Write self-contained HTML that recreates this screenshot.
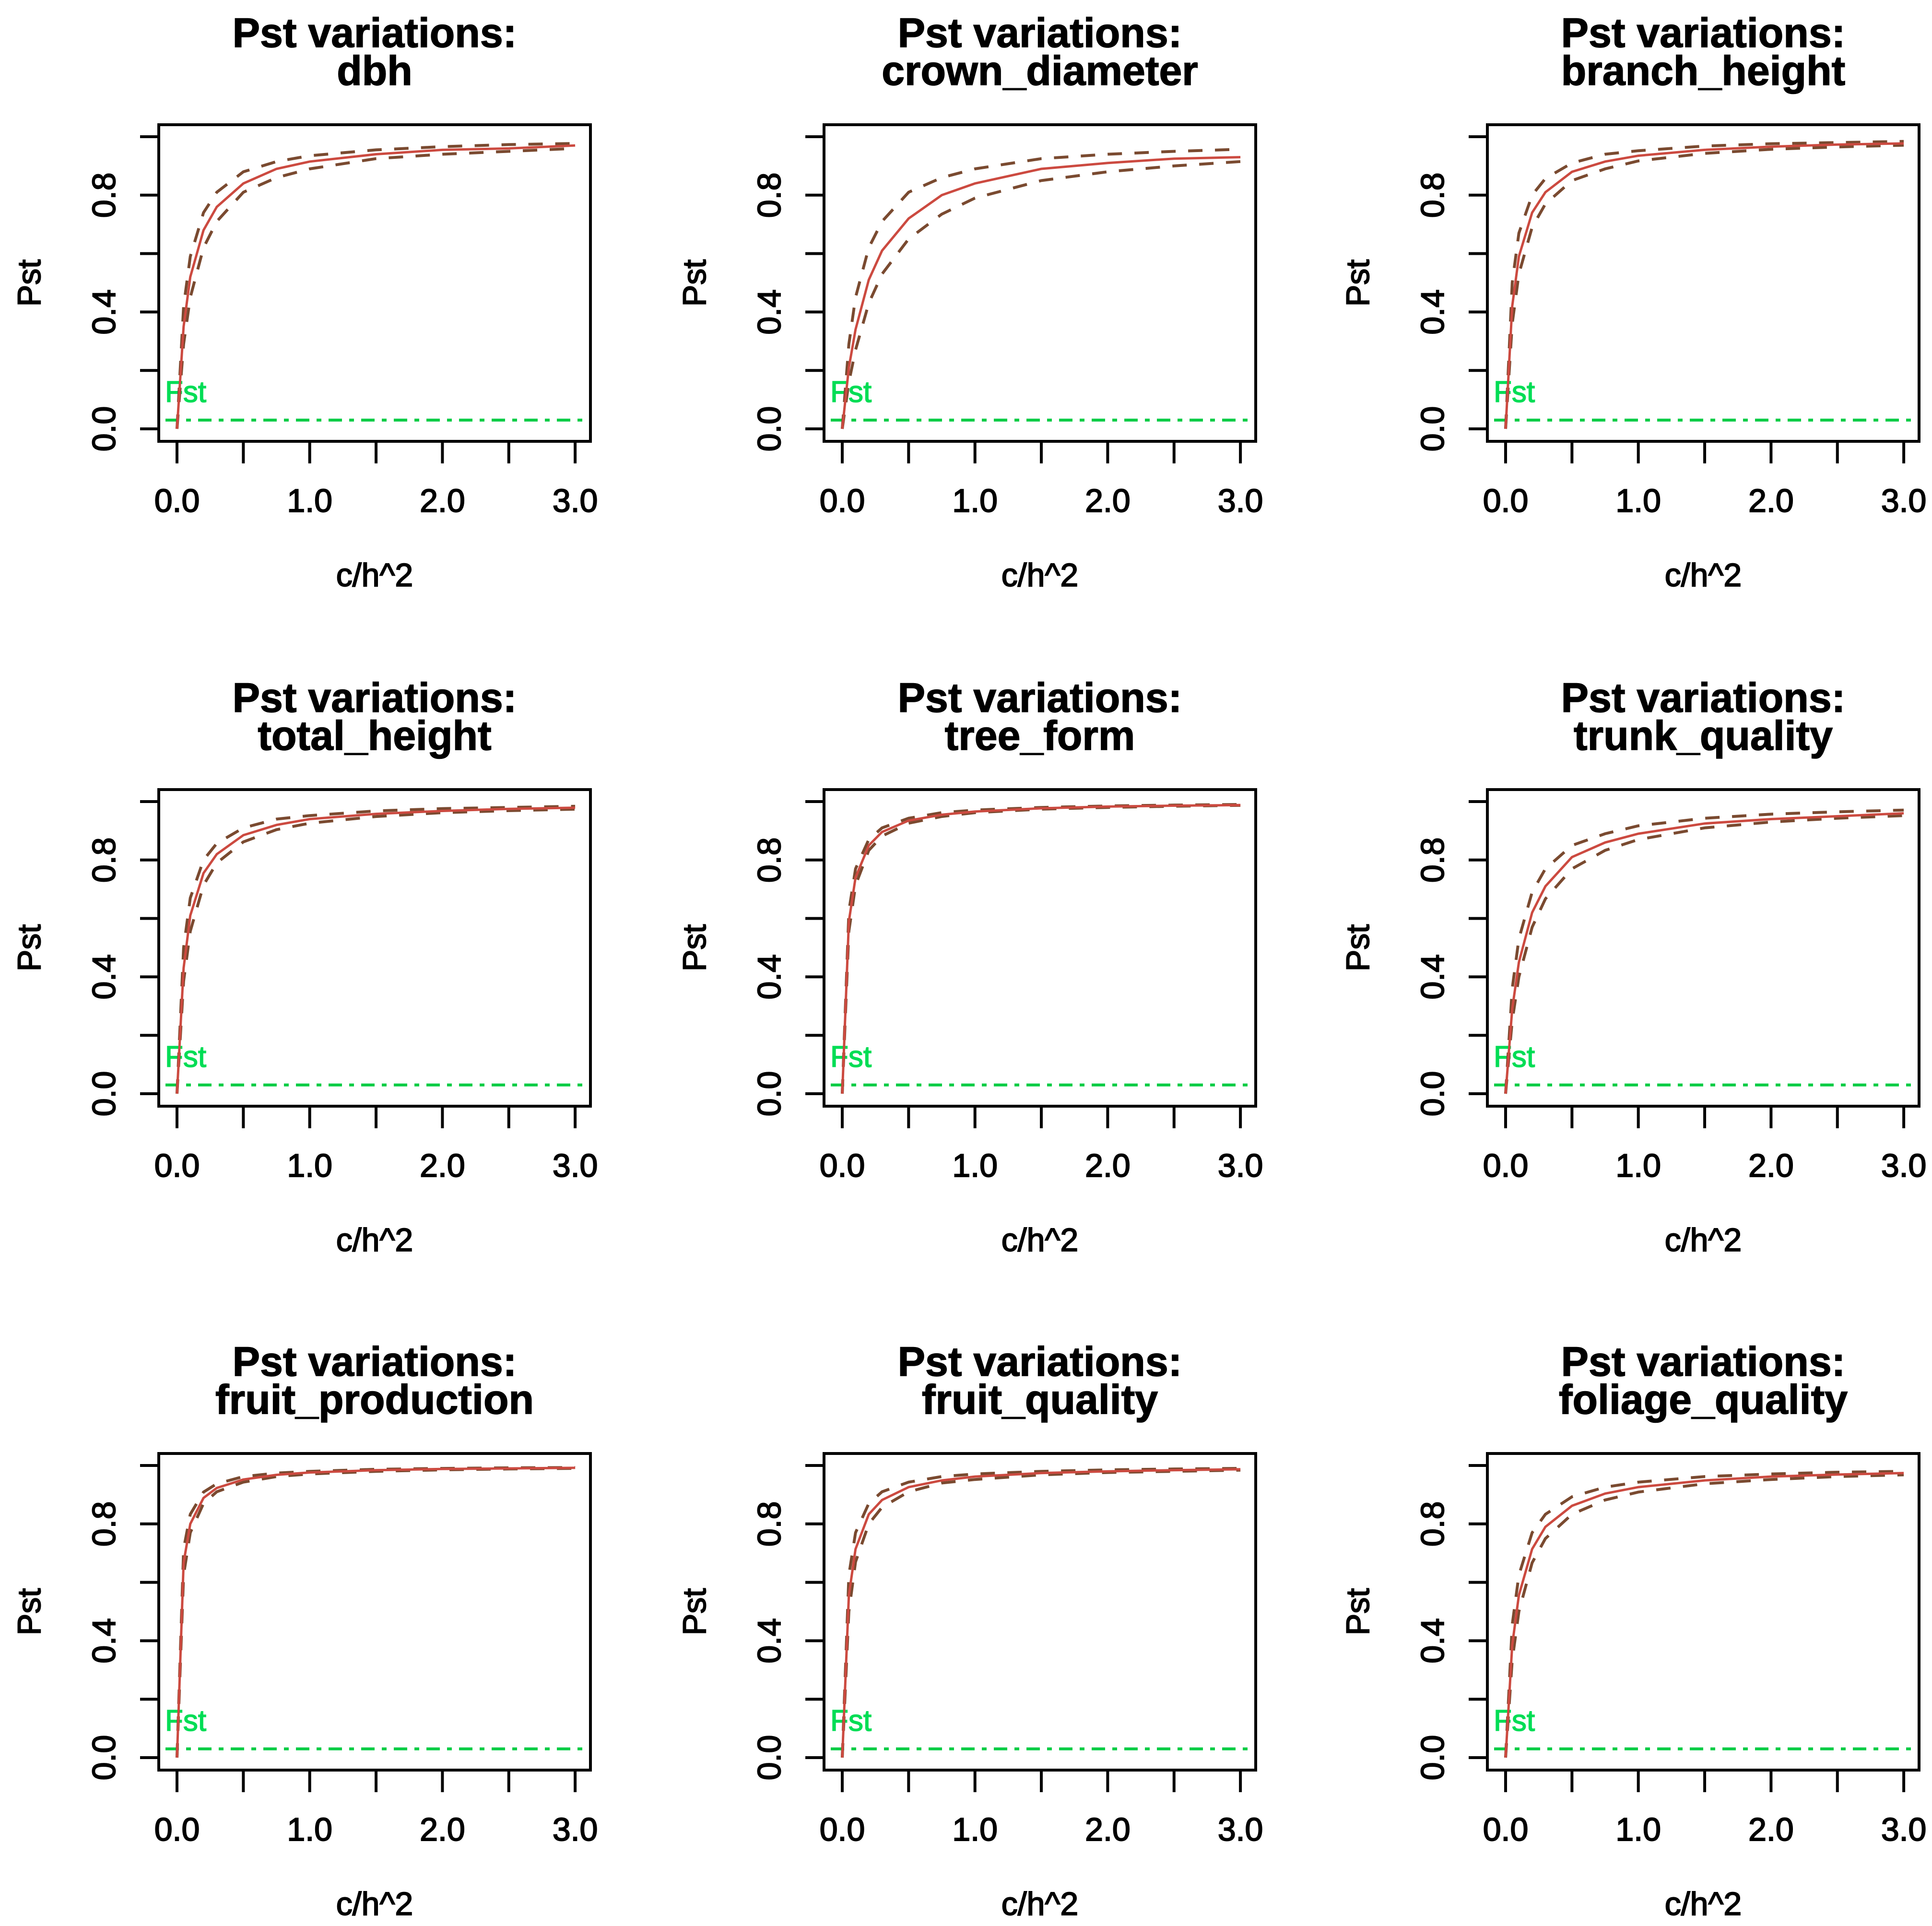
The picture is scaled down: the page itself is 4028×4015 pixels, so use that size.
<!DOCTYPE html>
<html><head><meta charset="utf-8">
<style>
html,body{margin:0;padding:0;background:#fff;}
svg{display:block;}
text{font-family:"Liberation Sans",Arial,sans-serif;}
</style></head>
<body>
<svg id="chart" width="4028" height="4015" viewBox="0 0 4028 4015" xmlns="http://www.w3.org/2000/svg"></svg>
<script>
const traits = ["dbh","crown_diameter","branch_height","total_height","tree_form","trunk_quality","fruit_production","fruit_quality","foliage_quality"];
const xValues = [0,0.05,0.1,0.2,0.3,0.5,0.75,1,1.5,2,2.5,3];
const fstValue = 0.03;
const xTicks = [0,0.5,1,1.5,2,2.5,3];
const xTickLabels = ["0.0","1.0","2.0","3.0"];
const xTickLabelValues = [0,1,2,3];
const yTicks = [0,0.2,0.4,0.6,0.8,1.0];
const yTickLabels = ["0.0","0.4","0.8"];
const yTickLabelValues = [0,0.4,0.8];

const medianSeries = [
 [0,.35,.52,.68,.76,.84,.89,.915,.94,.955,.96,.97],
 [0,.21,.34,.51,.61,.72,.80,.84,.89,.91,.925,.93],
 [0,.42,.59,.74,.81,.88,.915,.935,.955,.966,.973,.977],
 [0,.43,.61,.755,.82,.885,.92,.94,.958,.968,.975,.979],
 [0,.59,.74,.85,.896,.935,.955,.966,.977,.983,.986,.988],
 [0,.29,.45,.62,.71,.81,.86,.89,.925,.94,.95,.96],
 [0,.667,.8,.889,.923,.952,.968,.976,.984,.988,.99,.992],
 [0,.556,.714,.833,.882,.926,.949,.962,.974,.98,.984,.987],
 [0,.385,.556,.714,.79,.862,.904,.926,.949,.962,.969,.974]
];
const upperSeries = [
 [0,.42,.59,.74,.81,.88,.915,.935,.955,.966,.973,.977],
 [0,.29,.45,.62,.71,.81,.86,.89,.925,.94,.95,.957],
 [0,.5,.67,.8,.857,.91,.94,.952,.968,.976,.98,.984],
 [0,.5,.67,.8,.857,.91,.94,.952,.968,.976,.98,.984],
 [0,.625,.77,.87,.91,.943,.962,.971,.98,.985,.988,.99],
 [0,.36,.53,.69,.77,.85,.89,.917,.943,.957,.965,.971],
 [0,.714,.833,.909,.9375,.962,.974,.98,.987,.99,.992,.993],
 [0,.625,.77,.87,.91,.943,.962,.971,.98,.985,.988,.99],
 [0,.455,.625,.77,.833,.893,.926,.943,.962,.971,.977,.98]
];
const lowerSeries = [
 [0,.29,.45,.62,.71,.81,.86,.89,.925,.94,.95,.96],
 [0,.16,.27,.43,.53,.65,.735,.79,.85,.88,.90,.915],
 [0,.36,.53,.69,.77,.85,.89,.917,.943,.957,.965,.971],
 [0,.385,.556,.714,.79,.862,.904,.926,.949,.962,.969,.974],
 [0,.556,.714,.833,.882,.926,.949,.962,.974,.98,.984,.987],
 [0,.25,.4,.57,.667,.77,.833,.87,.91,.93,.943,.952],
 [0,.625,.77,.87,.91,.943,.962,.971,.98,.985,.988,.99],
 [0,.5,.67,.8,.857,.91,.94,.952,.968,.976,.98,.984],
 [0,.333,.5,.667,.75,.833,.882,.909,.9375,.952,.962,.968]
];

const svg = document.getElementById('chart');
const NS = 'http://www.w3.org/2000/svg';
function mk(tag, attrs, parent){
  const e = document.createElementNS(NS, tag);
  for (const k in attrs) e.setAttribute(k, attrs[k]);
  parent.appendChild(e);
  return e;
}
const colOff = [0,1387,2770], rowOff = [0,1386,2770];

traits.forEach((name, i) => {
  const ox = colOff[i%3], oy = rowOff[Math.floor(i/3)];
  const g = mk('g', {transform:`translate(${ox},${oy})`}, svg);
  
  
  const sx = v => 369 + v*276.7;
  const sy = v => 894 - v*609;

  const t = mk('text', {x:781, y:98, 'font-size':86, 'font-weight':'bold', 'text-anchor':'middle', fill:'#000', stroke:'#000', 'stroke-width':1.5}, g);
  t.textContent = 'Pst variations:';
  
  
  const t2 = mk('text', {x:781, y:177, 'font-size':86, 'font-weight':'bold', 'text-anchor':'middle', fill:'#000', stroke:'#000', 'stroke-width':1.5}, g);
  t2.textContent = name;
  
  

  const box = mk('rect', {x:331, y:260, width:900, height:660, fill:'none', stroke:'#000', 'stroke-width':6}, g);
  
  

  xTicks.forEach(v => {
    const l = mk('line', {x1:sx(v), x2:sx(v), y1:920, y2:966, stroke:'#000', 'stroke-width':6}, g);
    
    
  });
  xTickLabelValues.forEach((v, j) => {
    const tx = mk('text', {x:sx(v), y:1067, 'font-size':68, 'text-anchor':'middle', fill:'#000', stroke:'#000', 'stroke-width':2}, g);
    tx.textContent = xTickLabels[j];
    
    
  });
  yTicks.forEach(v => {
    const l = mk('line', {x1:292, x2:331, y1:sy(v), y2:sy(v), stroke:'#000', 'stroke-width':6}, g);
    
    
  });
  yTickLabelValues.forEach((v, j) => {
    const tx = mk('text', {x:0, y:0, 'font-size':68, 'text-anchor':'middle', fill:'#000', stroke:'#000', 'stroke-width':2, transform:`translate(240,${sy(v)}) rotate(-90)`}, g);
    tx.textContent = yTickLabels[j];
    
    
  });
  const xl = mk('text', {x:781, y:1222, 'font-size':68, 'text-anchor':'middle', fill:'#000', stroke:'#000', 'stroke-width':2}, g);
  xl.textContent = 'c/h^2';
  
  
  const yl = mk('text', {x:0, y:0, 'font-size':68, 'text-anchor':'middle', fill:'#000', stroke:'#000', 'stroke-width':2, transform:'translate(84,590) rotate(-90)'}, g);
  yl.textContent = 'Pst';
  
  

  const fl = mk('line', {x1:345, x2:1220, y1:sy(fstValue), y2:sy(fstValue), stroke:'#00cc44', 'stroke-width':6, 'stroke-dasharray':'28 15 10 15'}, g);
  
  
  const ft = mk('text', {x:344, y:838, 'font-size':62, fill:'#00dd55', stroke:'#00dd55', 'stroke-width':1.5}, g);
  ft.textContent = 'Fst';
  
  

  const pts = arr => arr.map((v, j) => sx(xValues[j]).toFixed(1) + ',' + sy(v).toFixed(1)).join(' ');
  const up = mk('polyline', {points:pts(upperSeries[i]), fill:'none', stroke:'#7a4a30', 'stroke-width':6, 'stroke-dasharray':'30 26'}, g);
  
  
  const lo = mk('polyline', {points:pts(lowerSeries[i]), fill:'none', stroke:'#7a4a30', 'stroke-width':6, 'stroke-dasharray':'30 26'}, g);
  
  
  const md = mk('polyline', {points:pts(medianSeries[i]), fill:'none', stroke:'#cc4a40', 'stroke-width':5}, g);
  
  
});
</script>
</body></html>
